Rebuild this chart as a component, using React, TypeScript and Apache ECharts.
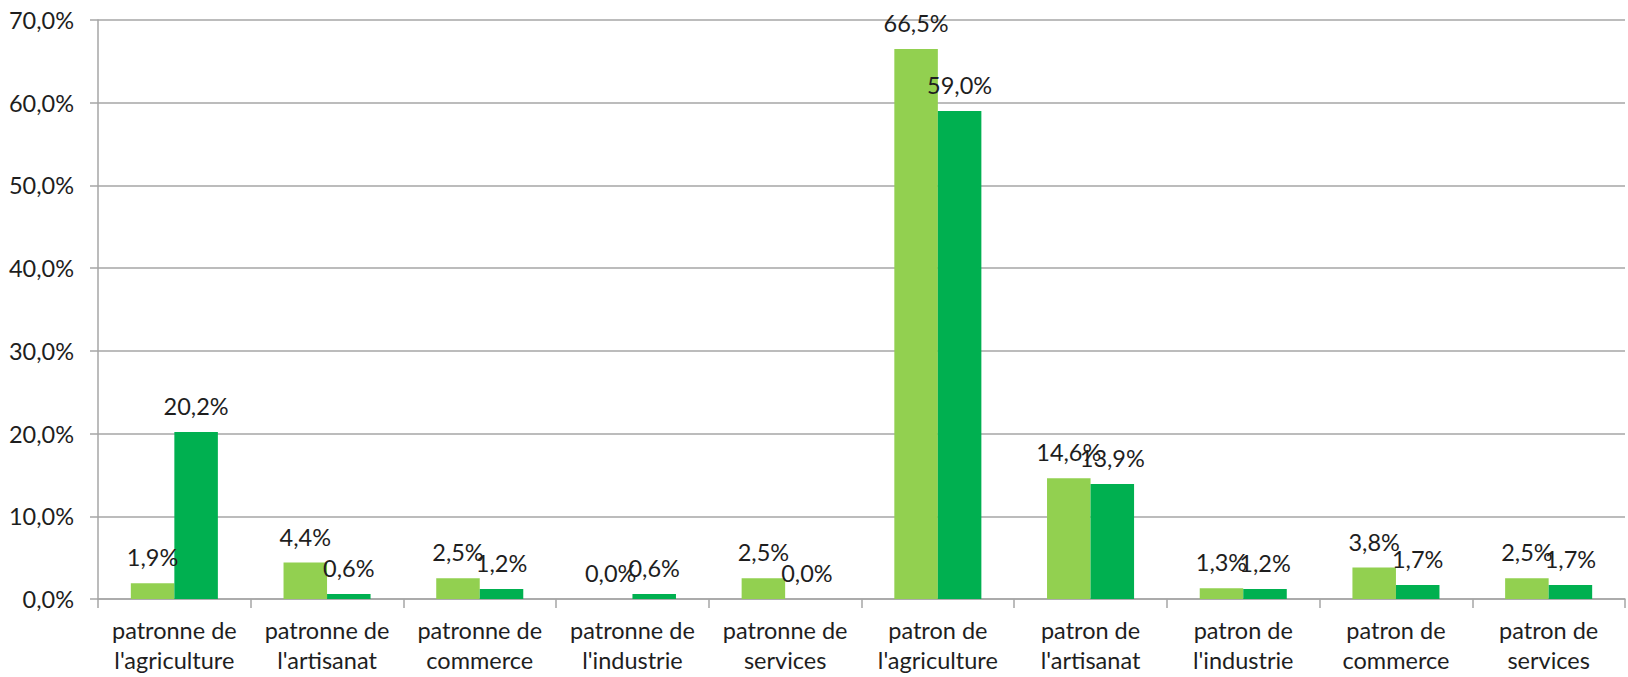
import React, { useEffect, useRef } from "react";
import * as echarts from "echarts";

const categories = [
  "patronne de\nl'agriculture",
  "patronne de\nl'artisanat",
  "patronne de\ncommerce",
  "patronne de\nl'industrie",
  "patronne de\nservices",
  "patron de\nl'agriculture",
  "patron de\nl'artisanat",
  "patron de\nl'industrie",
  "patron de\ncommerce",
  "patron de\nservices",
];
const seriesA = [1.9, 4.4, 2.5, 0.0, 2.5, 66.5, 14.6, 1.3, 3.8, 2.5];
const seriesB = [20.2, 0.6, 1.2, 0.6, 0.0, 59.0, 13.9, 1.2, 1.7, 1.7];

const fmt = (v: number) => v.toFixed(1).replace(".", ",") + "%";
const FONT = "Lato";
const TXT = "#1e1e1e";

export default function App() {
  const ref = useRef<HTMLDivElement>(null);
  useEffect(() => {
    document.body.style.margin = "0";
    const chart = echarts.init(ref.current!, null, { renderer: "svg" });
    const label = {
      show: true,
      position: "top" as const,
      distance: 14,
      formatter: (p: any) => fmt(p.value),
      fontFamily: FONT,
      fontSize: 23.5,
      color: TXT,
    };
    chart.setOption({
      animation: false,
      backgroundColor: "#ffffff",
      grid: { left: 98, right: 3, top: 20, bottom: 78, containLabel: false },
      xAxis: {
        type: "category",
        data: categories,
        axisLine: { show: true, lineStyle: { color: "#a6a6a6", width: 1.5 } },
        axisTick: { show: true, length: 9, lineStyle: { color: "#a6a6a6", width: 1.5 } },
        axisLabel: {
          interval: 0,
          margin: 16,
          fontFamily: FONT,
          fontSize: 23.5,
          lineHeight: 30,
          color: TXT,
        },
      },
      yAxis: {
        type: "value",
        min: 0,
        max: 70,
        interval: 10,
        axisLine: { show: true, lineStyle: { color: "#a6a6a6", width: 1.5 } },
        axisTick: { show: true, length: 8, lineStyle: { color: "#a6a6a6", width: 1.5 } },
        splitLine: { show: true, lineStyle: { color: "#a6a6a6", width: 1.5 } },
        axisLabel: {
          margin: 24,
          formatter: (v: number) => fmt(v),
          fontFamily: FONT,
          fontSize: 23.5,
          color: TXT,
        },
      },
      series: [
        {
          type: "bar",
          data: seriesA,
          itemStyle: { color: "#92D050" },
          barGap: "0%",
          barCategoryGap: "43%",
          label,
        },
        {
          type: "bar",
          data: seriesB,
          itemStyle: { color: "#00B050" },
          barGap: "0%",
          barCategoryGap: "43%",
          label,
        },
      ],
    });
    return () => chart.dispose();
  }, []);
  return <div ref={ref} style={{ width: 1628, height: 677 }} />;
}
